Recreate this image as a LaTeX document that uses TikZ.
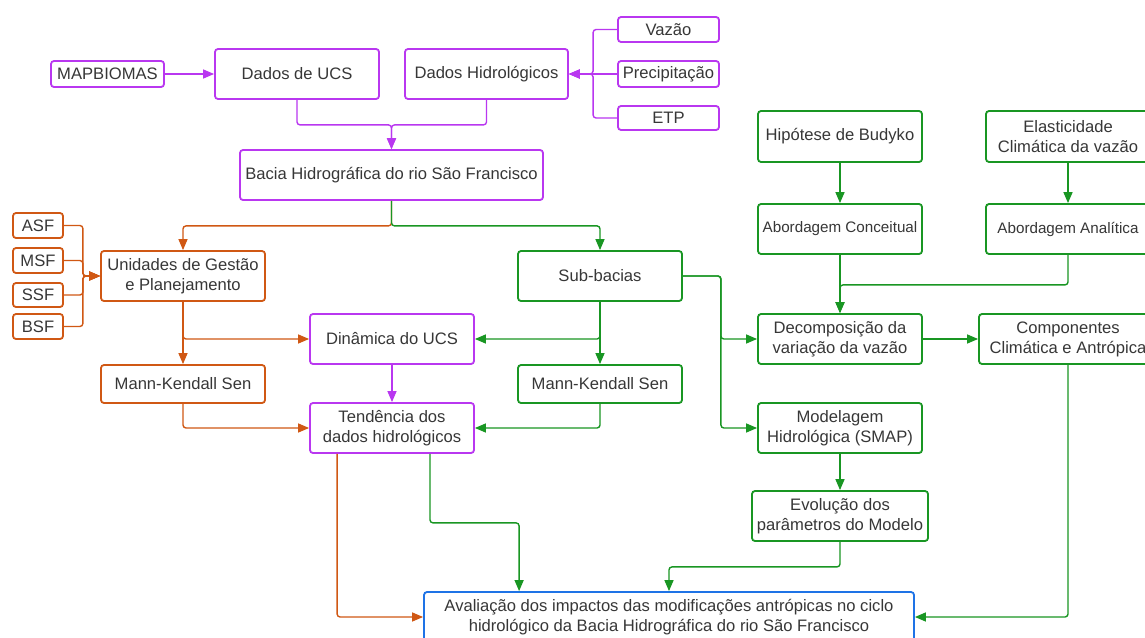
\documentclass[tikz,border=0pt]{standalone}
\usepackage{fontspec}
\setmainfont{Liberation Sans}
\usetikzlibrary{arrows.meta,calc}
\definecolor{cpur}{RGB}{185,55,240}
\definecolor{cora}{RGB}{208,88,20}
\definecolor{cgre}{RGB}{25,150,35}
\definecolor{cblu}{RGB}{30,115,230}
\definecolor{ctxt}{RGB}{55,55,55}
\tikzset{
  box/.style={draw, rounded corners=3pt, line width=1.8pt, text=ctxt, align=center,
    inner sep=0pt, font=\fontsize{16.6}{20}\selectfont},
  pbox/.style={box, draw=cpur},
  obox/.style={box, draw=cora},
  gbox/.style={box, draw=cgre},
  bbox/.style={box, draw=cblu},
  conn/.style={line width=1.4pt, rounded corners=3pt, -{Triangle[length=11pt,width=9pt]}},
  parr/.style={conn, draw=cpur},
  oarr/.style={conn, draw=cora},
  garr/.style={conn, draw=cgre},
}
\begin{document}
\begin{tikzpicture}[x=1pt,y=-1pt]
\useasboundingbox[fill=white] (0,0) rectangle (1145,637);
% top purple
\node[pbox, minimum width=113, minimum height=26] (mapb) at (107.5,74) {MAPBIOMAS};
\node[pbox, minimum width=164, minimum height=50] (ucs) at (297,74) {Dados de UCS};
\node[pbox, minimum width=163, minimum height=50] (hidro) at (486.5,74) {Dados Hidrológicos};
\node[pbox, minimum width=101, minimum height=25] (vaz) at (668.5,29.5) {Vazão};
\node[pbox, minimum width=101, minimum height=26] (prec) at (668.5,74) {Precipitação};
\node[pbox, minimum width=101, minimum height=24] (etp) at (668.5,118) {ETP};
\node[pbox, minimum width=303, minimum height=50] (bacia) at (391.5,175) {Bacia Hidrográfica do rio São Francisco};
% right green top
\node[gbox, minimum width=164, minimum height=51] (bud) at (840,136.5) {Hipótese de Budyko};
\node[gbox, minimum width=164, minimum height=51] (ela) at (1068,136.5) {Elasticidade\\Climática da vazão};
\node[gbox, minimum width=164, minimum height=50, font=\fontsize{15.2}{18}\selectfont] (conc) at (840,229) {Abordagem Conceitual};
\node[gbox, minimum width=164, minimum height=50, font=\fontsize{15.2}{18}\selectfont] (ana) at (1068,229) {Abordagem Analítica};
\node[gbox, minimum width=164, minimum height=50] (dec) at (840,339) {Decomposição da\\variação da vazão};
\node[gbox, minimum width=178, minimum height=50] (comp) at (1068,339) {Componentes\\Climática e Antrópica};
% left orange
\node[obox, minimum width=50, minimum height=25] (asf) at (38,225.5) {ASF};
\node[obox, minimum width=50, minimum height=25] (msf) at (38,260.5) {MSF};
\node[obox, minimum width=50, minimum height=24] (ssf) at (38,295) {SSF};
\node[obox, minimum width=50, minimum height=25] (bsf) at (38,326.5) {BSF};
\node[obox, minimum width=164, minimum height=50] (unid) at (183,276) {Unidades de Gestão\\e Planejamento};
\node[obox, minimum width=164, minimum height=38] (mko) at (183,384) {Mann-Kendall Sen};
% middle
\node[gbox, minimum width=164, minimum height=50] (sub) at (600,276) {Sub-bacias};
\node[gbox, minimum width=164, minimum height=38] (mkg) at (600,384) {Mann-Kendall Sen};
\node[pbox, minimum width=164, minimum height=50] (din) at (392,339) {Dinâmica do UCS};
\node[pbox, minimum width=164, minimum height=50] (tend) at (392,428) {Tendência dos\\dados hidrológicos};
\node[gbox, minimum width=164, minimum height=50] (mod) at (840,428) {Modelagem\\Hidrológica (SMAP)};
\node[gbox, minimum width=176, minimum height=50] (evo) at (840,516) {Evolução dos\\parâmetros do Modelo};
\node[bbox, minimum width=490, minimum height=50] (aval) at (669,617) {Avaliação dos impactos das modificações antrópicas no ciclo\\hidrológico da Bacia Hidrográfica do rio São Francisco};
% purple connectors
\draw[parr] (mapb) -- (ucs);
\draw[parr] (ucs.south) -- ++(0,25) -| (bacia.north);
\draw[parr] (hidro.south) -- ++(0,25) -| (bacia.north);
\draw[parr] (vaz.west) -- ++(-24,0) |- (hidro.east);
\draw[parr] (etp.west) -- ++(-24,0) |- (hidro.east);
\draw[parr] (prec) -- (hidro);
\draw[parr] (din) -- (tend);
% bacia split
\draw[oarr] (bacia.south) -- ++(0,25) -| (unid.north);
\draw[garr] (bacia.south) -- ++(0,25) -| (sub.north);
% orange
\draw[oarr] (asf.east) -- ++(19,0) |- (unid.west);
\draw[oarr] (msf.east) -- ++(19,0) |- (unid.west);
\draw[oarr] (ssf.east) -- ++(19,0) |- (unid.west);
\draw[oarr] (bsf.east) -- ++(19,0) |- (unid.west);
\draw[oarr] (unid) -- (mko);
\draw[oarr] (unid.south) |- (din.west);
\draw[oarr] (mko.south) |- (tend.west);
\draw[oarr] ($(tend.south west)+(28,0)$) |- (aval.west);
% green
\draw[garr] (sub) -- (mkg);
\draw[garr] (sub.south) |- (din.east);
\draw[garr] (mkg.south) |- (tend.east);
\draw[garr] (sub.east) -- ++(38,0) |- (dec.west);
\draw[garr] (sub.east) -- ++(38,0) |- (mod.west);
\draw[garr] (bud) -- (conc);
\draw[garr] (ela) -- (ana);
\draw[garr] (conc) -- (dec);
\draw[garr] (ana.south) -- ++(0,30) -| (dec.north);
\draw[garr] (dec) -- (comp);
\draw[garr] (comp.south) |- (aval.east);
\draw[garr] (mod) -- (evo);
\draw[garr] (evo.south) -- ++(0,25) -| (aval.north);
\draw[garr] ($(tend.south)+(38,0)$) -- ++(0,69) -| ($(aval.north west)+(96,0)$);
\end{tikzpicture}
\end{document}
